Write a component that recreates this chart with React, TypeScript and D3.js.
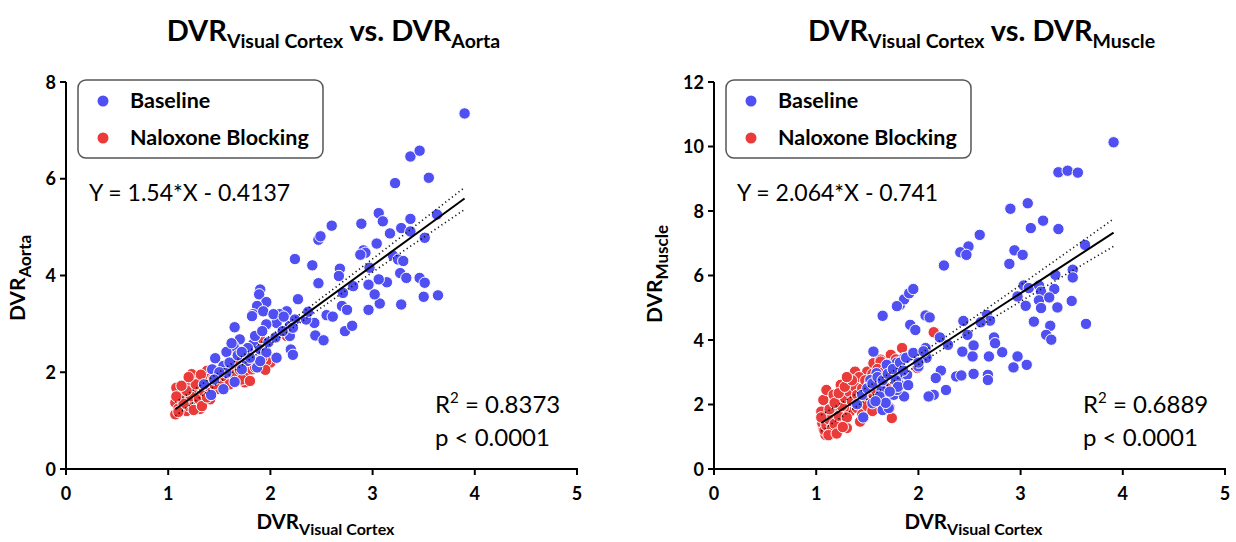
import React from "react";
import * as d3 from "d3";

type Pt = [number, number];

const xTicks = [0, 1, 2, 3, 4, 5];
const aortaTicks = [0, 2, 4, 6, 8];
const muscleTicks = [0, 2, 4, 6, 8, 10, 12];

// DVR visual cortex vs DVR aorta
const aortaBaseline: Pt[] = [
  [3.9, 7.35], [3.37, 6.46], [3.46, 6.58], [3.22, 5.91], [3.55, 6.02], [3.63, 5.26],
  [3.06, 5.29], [3.1, 5.12], [2.89, 5.07], [2.6, 5.03], [2.47, 4.74], [2.49, 4.81],
  [3.17, 4.87], [3.37, 5.17], [3.28, 4.98], [3.51, 4.78], [3.37, 4.91], [2.91, 4.52],
  [2.93, 4.47], [3.04, 4.66], [2.88, 4.43], [3.2, 4.41], [3.25, 4.33], [3.3, 4.3],
  [3.27, 4.05], [3.33, 3.95], [3.46, 3.95], [3.51, 3.85], [3.5, 3.56], [3.64, 3.59],
  [3.28, 3.4], [3.07, 3.42], [2.96, 3.29], [3.02, 3.61], [3.14, 3.86], [3.06, 3.92],
  [2.96, 3.81], [2.97, 4.16], [2.81, 3.78], [2.68, 4.14], [2.67, 3.99], [2.71, 3.64],
  [2.7, 3.37], [2.75, 3.29], [2.73, 2.85], [2.8, 2.96], [2.55, 3.18], [2.61, 3.15],
  [2.47, 3.84], [2.41, 4.21], [2.24, 4.34], [2.27, 3.51], [2.43, 3.02], [2.44, 2.76],
  [2.52, 2.66], [2.2, 2.47], [2.22, 2.36], [2.19, 2.96], [2.24, 3.09], [2.35, 3.09],
  [2.37, 3.25], [2.16, 3.26], [2.09, 3.2], [2.06, 3.02], [1.96, 2.99], [1.9, 3.71],
  [1.89, 3.61], [1.96, 3.45], [1.87, 3.37], [1.83, 3.2], [1.82, 3.16], [1.93, 3.26],
  [2.03, 3.2], [2.13, 3.15], [1.65, 2.93], [1.7, 2.68], [1.83, 2.58], [1.64, 2.54],
  [1.57, 2.42], [1.46, 2.29], [1.75, 2.44], [1.9, 2.47], [1.96, 2.41], [1.77, 2.23],
  [1.87, 2.1], [1.9, 2.23], [2.06, 2.3], [1.54, 2.13], [1.57, 1.99], [1.65, 1.8],
  [1.54, 1.65], [1.42, 1.53], [1.43, 2.06], [1.72, 2.06], [2.19, 2.75], [2.22, 2.92],
  [1.5, 2.0], [1.6, 2.2], [1.68, 2.35], [1.78, 2.5], [1.85, 2.75], [1.92, 2.85],
  [1.35, 1.75], [1.45, 1.85], [1.8, 2.3], [1.98, 2.62], [2.05, 2.72], [2.12, 2.85],
  [1.72, 2.42], [1.62, 2.6],
];

const aortaNaloxone: Pt[] = [
  [1.07, 1.13], [1.07, 1.37], [1.08, 1.68], [1.13, 1.27], [1.18, 1.2], [1.23, 1.31],
  [1.28, 1.37], [1.31, 1.24], [1.18, 1.44], [1.25, 1.58], [1.2, 1.82], [1.25, 1.92],
  [1.28, 1.65], [1.34, 1.75], [1.38, 2.03], [1.39, 1.86], [1.43, 1.58], [1.47, 1.65],
  [1.23, 1.96], [1.44, 1.86], [1.59, 2.03], [1.64, 2.13], [1.62, 1.89], [1.69, 2.23],
  [1.77, 1.96], [1.75, 1.79], [1.82, 2.06], [1.9, 2.71], [1.83, 2.54], [2.0, 2.2],
  [1.96, 2.23], [2.16, 2.75], [1.33, 1.55], [1.41, 1.44], [1.1, 1.25], [1.12, 1.45],
  [1.15, 1.55], [1.2, 1.3], [1.22, 1.5], [1.3, 1.45], [1.35, 1.6], [1.15, 1.35],
  [1.1, 1.18], [1.25, 1.22], [1.18, 1.62], [1.4, 1.7], [1.5, 1.8], [1.55, 1.92],
  [1.27, 1.75], [1.33, 1.3], [1.38, 1.48], [1.45, 1.75], [1.6, 1.75], [1.65, 1.95],
  [1.7, 2.05], [1.72, 1.85], [1.8, 1.82], [1.85, 2.1], [1.92, 2.3], [1.95, 2.05],
  [1.08, 1.5], [1.13, 1.72], [1.2, 1.9], [1.32, 1.95],
];

// DVR visual cortex vs DVR muscle
const muscleBaseline: Pt[] = [
  [3.91, 10.13], [3.37, 9.2], [3.46, 9.25], [3.56, 9.19], [2.9, 8.07], [3.07, 8.24],
  [3.22, 7.7], [3.1, 7.47], [3.37, 7.44], [2.6, 7.26], [2.49, 6.9], [2.41, 6.72],
  [2.47, 6.64], [2.25, 6.31], [2.94, 6.78], [3.02, 6.64], [2.89, 6.36], [3.63, 6.95],
  [3.51, 6.18], [3.51, 5.94], [3.34, 6.02], [3.5, 5.21], [3.64, 4.5], [3.03, 5.69],
  [3.08, 5.61], [3.18, 5.69], [3.2, 5.5], [3.33, 5.58], [2.97, 5.35], [3.05, 5.06],
  [3.18, 5.23], [3.2, 4.99], [3.28, 5.32], [3.36, 5.01], [3.13, 4.57], [3.29, 4.44],
  [3.25, 4.16], [3.3, 4.01], [2.67, 4.78], [2.7, 4.6], [2.61, 4.55], [2.44, 4.59],
  [2.48, 4.16], [2.54, 3.83], [2.53, 3.49], [2.43, 3.64], [2.74, 4.08], [2.75, 3.9],
  [2.82, 3.62], [2.69, 3.49], [2.97, 3.49], [2.93, 3.15], [3.06, 3.23], [2.54, 2.95],
  [2.37, 2.87], [2.42, 2.9], [2.68, 2.92], [2.68, 2.76], [2.22, 3.05], [2.17, 2.82],
  [2.27, 2.45], [2.15, 2.3], [2.1, 2.25], [2.21, 4.08], [2.29, 3.85], [2.07, 4.76],
  [2.11, 4.7], [1.92, 4.47], [1.97, 4.31], [1.82, 5.09], [1.86, 5.26], [1.91, 5.45],
  [1.95, 5.58], [1.79, 5.05], [1.65, 4.75], [1.56, 3.64], [2.07, 3.75], [1.95, 3.54],
  [1.86, 3.44], [1.79, 3.3], [1.82, 2.92], [1.89, 2.92], [1.69, 3.23], [1.59, 2.97],
  [1.53, 2.76], [1.64, 2.45], [1.76, 2.3], [1.86, 2.25], [1.55, 2.04], [1.4, 2.01],
  [1.65, 1.83], [1.71, 1.89], [1.46, 1.6], [1.79, 2.45], [1.82, 2.6], [2.0, 3.18],
  [2.08, 3.45], [1.45, 2.3], [1.5, 2.5], [1.55, 2.65], [1.6, 2.85], [1.65, 2.75],
  [1.7, 2.95], [1.75, 3.1], [1.78, 2.75], [1.8, 2.55], [1.82, 3.3], [1.85, 3.05],
  [1.88, 3.45], [1.9, 2.6], [1.95, 3.6], [2.0, 3.3], [2.05, 3.65], [1.62, 2.25],
  [1.68, 2.05], [1.72, 2.4], [1.58, 2.1],
];

const muscleNaloxone: Pt[] = [
  [1.07, 1.27], [1.09, 1.06], [1.07, 2.14], [1.06, 1.42], [1.1, 2.45], [1.17, 1.78],
  [1.24, 1.47], [1.3, 1.27], [1.17, 2.3], [1.24, 2.61], [1.3, 2.45], [1.37, 2.76],
  [1.38, 3.02], [1.43, 2.71], [1.5, 3.02], [1.56, 3.28], [1.63, 3.39], [1.73, 3.54],
  [1.84, 3.75], [2.15, 4.24], [1.74, 1.58], [1.43, 1.47], [1.33, 1.78], [1.3, 2.09],
  [1.4, 1.89], [1.5, 2.2], [1.56, 2.3], [1.69, 2.51], [1.2, 1.16], [1.14, 1.58],
  [1.27, 1.89], [1.05, 1.78], [1.99, 3.13], [1.63, 2.71], [1.63, 3.33], [1.08, 1.2],
  [1.1, 1.35], [1.12, 1.55], [1.15, 1.25], [1.18, 1.4], [1.22, 1.65], [1.25, 1.95],
  [1.28, 2.2], [1.3, 1.6], [1.32, 2.4], [1.35, 2.1], [1.38, 2.55], [1.4, 2.3],
  [1.42, 2.85], [1.45, 2.5], [1.48, 2.75], [1.52, 2.6], [1.55, 2.95], [1.58, 2.45],
  [1.6, 3.1], [1.62, 2.85], [1.66, 3.0], [1.7, 3.25], [1.75, 3.1], [1.78, 3.4],
  [1.13, 1.85], [1.18, 2.05], [1.22, 2.35], [1.28, 2.55], [1.35, 2.75], [1.12, 1.05],
  [1.2, 1.1], [1.26, 1.3], [1.45, 1.7], [1.5, 1.95], [1.55, 1.8], [1.65, 2.1],
  [1.72, 1.9], [1.05, 1.6], [1.3, 2.85],
];

const aortaSlope = 1.54;
const aortaIntercept = -0.4137;
const muscleSlope = 2.064;
const muscleIntercept = -0.741;

const BLUE = "#5050F2";
const RED = "#EA3A3A";
const FONT = "Lato, 'Open Sans', sans-serif";

type PanelProps = {
  dx: number;
  yMax: number;
  yTicks: number[];
  target: string;
  yLabelX: number;
  yLabelY: number;
  baseline: Pt[];
  naloxone: Pt[];
  slope: number;
  intercept: number;
  equation: string;
  r2: string;
};

function Panel({
  dx, yMax, yTicks, target, yLabelX, yLabelY, baseline, naloxone, slope, intercept, equation, r2,
}: PanelProps) {
  const x = d3.scaleLinear().domain([0, 5]).range([66 + dx, 577 + dx]);
  const y = d3.scaleLinear().domain([0, yMax]).range([469, 82]);

  // regression line + 95% confidence band
  const all = [...naloxone, ...baseline];
  const n = all.length;
  const mx = d3.mean(all, (d) => d[0]) as number;
  const sxx = d3.sum(all, (d) => (d[0] - mx) ** 2);
  const sse = d3.sum(all, (d) => (d[1] - (slope * d[0] + intercept)) ** 2);
  const s = Math.sqrt(sse / (n - 2));
  const [x0, x1] = d3.extent(all, (d) => d[0]) as [number, number];
  const xs = d3.range(x0, x1 + 0.0001, (x1 - x0) / 60);
  const hw = (v: number) => 1.97 * s * Math.sqrt(1 / n + (v - mx) ** 2 / sxx);
  const line = d3
    .line<number>()
    .x((v) => x(v))
    .y((v) => y(slope * v + intercept));
  const upper = d3
    .line<number>()
    .x((v) => x(v))
    .y((v) => y(slope * v + intercept + hw(v)));
  const lower = d3
    .line<number>()
    .x((v) => x(v))
    .y((v) => y(slope * v + intercept - hw(v)));

  const cx = (x(0) + x(5)) / 2;

  return (
    <g fontFamily={FONT}>
      <text x={cx + 12} y={41} textAnchor="middle" fontWeight="bold" fontSize={29}>
        DVR<tspan fontSize={19.5} dy={7}>Visual Cortex</tspan>
        <tspan dy={-7}> vs. DVR</tspan>
        <tspan fontSize={19.5} dy={7}>{target}</tspan>
      </text>

      {naloxone.map((d, i) => (
        <circle key={"n" + i} cx={x(d[0])} cy={y(d[1])} r={5.7} fill={RED} stroke="#fff" strokeWidth={1} />
      ))}
      {baseline.map((d, i) => (
        <circle key={"b" + i} cx={x(d[0])} cy={y(d[1])} r={5.7} fill={BLUE} stroke="#fff" strokeWidth={1} />
      ))}

      <path d={upper(xs) as string} fill="none" stroke="#111" strokeWidth={1.6} strokeDasharray="1.2 3" />
      <path d={lower(xs) as string} fill="none" stroke="#111" strokeWidth={1.6} strokeDasharray="1.2 3" />
      <path d={line([x0, x1]) as string} fill="none" stroke="#000" strokeWidth={2} />

      {/* axes */}
      <line x1={x(0)} x2={x(5) + 1} y1={y(0)} y2={y(0)} stroke="#000" strokeWidth={2} />
      <line x1={x(0)} x2={x(0)} y1={y(0) + 1} y2={y(yMax)} stroke="#000" strokeWidth={2} />
      {xTicks.map((t) => (
        <g key={"x" + t}>
          <line x1={x(t)} x2={x(t)} y1={y(0)} y2={y(0) + 6} stroke="#000" strokeWidth={2} />
          <text x={x(t)} y={500} textAnchor="middle" fontWeight="bold" fontSize={18}>
            {t}
          </text>
        </g>
      ))}
      {yTicks.map((t) => (
        <g key={"y" + t}>
          <line x1={x(0) - 6} x2={x(0)} y1={y(t)} y2={y(t)} stroke="#000" strokeWidth={2} />
          <text x={x(0) - 10} y={y(t) + 6.5} textAnchor="end" fontWeight="bold" fontSize={18}>
            {t}
          </text>
        </g>
      ))}

      <text x={cx + 4} y={529} textAnchor="middle" fontWeight="bold" fontSize={20.5}>
        DVR<tspan fontSize={16} dy={6}>Visual Cortex</tspan>
      </text>
      <text
        transform={`translate(${dx + yLabelX},${yLabelY}) rotate(-90)`}
        textAnchor="middle"
        fontWeight="bold"
        fontSize={21}
      >
        DVR<tspan fontSize={17} dy={6}>{target}</tspan>
      </text>

      {/* legend */}
      <rect x={dx + 78} y={80} width={245} height={78} rx={8} fill="#fff" stroke="#555" strokeWidth={1.5} />
      <circle cx={dx + 103} cy={101} r={5.5} fill={BLUE} />
      <circle cx={dx + 103} cy={138} r={5.5} fill={RED} />
      <text x={dx + 130} y={108} fontWeight="bold" fontSize={21.5}>
        Baseline
      </text>
      <text x={dx + 130} y={145} fontWeight="bold" fontSize={21.5}>
        Naloxone Blocking
      </text>

      <text x={dx + 89} y={201} fontSize={23}>
        {equation}
      </text>
      <text x={dx + 435} y={413} fontSize={24}>
        R<tspan fontSize={15} dy={-10}>2</tspan>
        <tspan dy={10}> = {r2}</tspan>
      </text>
      <text x={dx + 435} y={446} fontSize={24}>
        p &lt; 0.0001
      </text>
    </g>
  );
}

export default function App() {
  return (
    <div style={{ position: "absolute", left: 0, top: 0 }}>
      <svg width={1236} height={542} style={{ display: "block", background: "#fff" }}>
        <Panel
          dx={0}
          yMax={8}
          yTicks={aortaTicks}
          target="Aorta"
          yLabelX={25}
          yLabelY={278}
          baseline={aortaBaseline}
          naloxone={aortaNaloxone}
          slope={aortaSlope}
          intercept={aortaIntercept}
          equation="Y = 1.54*X - 0.4137"
          r2="0.8373"
        />
        <Panel
          dx={648}
          yMax={12}
          yTicks={muscleTicks}
          target="Muscle"
          yLabelX={14}
          yLabelY={274}
          baseline={muscleBaseline}
          naloxone={muscleNaloxone}
          slope={muscleSlope}
          intercept={muscleIntercept}
          equation="Y = 2.064*X - 0.741"
          r2="0.6889"
        />
      </svg>
    </div>
  );
}
